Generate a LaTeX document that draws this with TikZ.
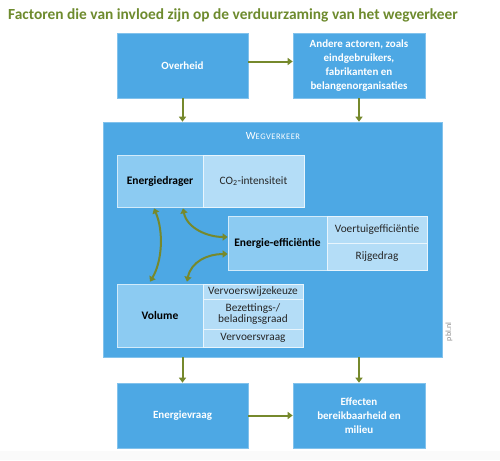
\documentclass[tikz,border=0pt]{standalone}
\usepackage{fontspec}
\setmainfont{Carlito}
\usetikzlibrary{arrows.meta}
\definecolor{pblblue}{HTML}{4DA8E4}
\definecolor{cellA}{HTML}{8CCBF2}
\definecolor{cellB}{HTML}{B4DDF7}
\definecolor{olive}{HTML}{76892C}
\definecolor{titlegreen}{HTML}{6E8B2E}
\tikzset{
  bluebox/.style={fill=pblblue, draw=pblblue!70!white, line width=0.6pt, text=white, font=\bfseries\fontsize{11}{14}\selectfont, align=center, inner sep=0pt},
  cella/.style={fill=cellA, draw=cellB!60!white, line width=0.6pt, text=black, font=\bfseries\fontsize{11.5}{12}\selectfont, align=center, inner sep=0pt},
  cellb/.style={fill=cellB, draw=white!70!cellB, line width=0.6pt, text=black!85, font=\fontsize{11.3}{11}\selectfont, align=center, inner sep=0pt},
  conn/.style={draw=olive, line width=2pt, -{Triangle[length=5pt,width=7pt]}},
  dconn/.style={draw=olive, line width=2pt, {Triangle[length=5pt,width=7pt]}-{Triangle[length=5pt,width=7pt]}},
}
\newcommand{\boxat}[6]{\node[#1, minimum width={(#4-#2)*1pt}, minimum height={(#5-#3)*1pt}] (#6) at ({(#2+#4)/2},{(#3+#5)/2})}
\begin{document}
\begin{tikzpicture}[x=1pt,y=-1pt]
\useasboundingbox (0,0) rectangle (500,460);
\fill[white] (0,0) rectangle (500,460);
\fill[black!2] (0,451) rectangle (500,460);
\node[anchor=base west, text=titlegreen, font=\bfseries\fontsize{15.4}{18}\selectfont, inner sep=0pt] (title) at (8,20) {Factoren die van invloed zijn op de verduurzaming van het wegverkeer};
% top boxes
\boxat{bluebox}{117}{33}{248}{98}{ov} {Overheid};
\boxat{bluebox}{293}{33}{425}{98}{and} {Andere actoren, zoals\\eindgebruikers,\\fabrikanten en\\belangenorganisaties};
% big box
\boxat{bluebox}{103}{122}{442}{357}{weg} {};
\node[text=white, font=\fontsize{11}{12}\selectfont\addfontfeature{LetterSpace=6}, anchor=base] (wegl) at (273,139) {W{\fontsize{8.5}{9}\selectfont EGVERKEER}};
% inner cells
\boxat{cella}{117}{155}{203}{207}{ed} {Energiedrager};
\boxat{cellb}{203}{155}{304}{207}{co} {CO\textsubscript{2}-intensiteit};
\boxat{cella}{228}{216}{327}{270}{ee} {Energie-efficiëntie};
\boxat{cellb}{327}{216}{427}{243}{vt} {Voertuigefficiëntie};
\boxat{cellb}{327}{243}{427}{270}{rg} {Rijgedrag};
\boxat{cella}{117}{284}{203}{347}{vol} {Volume};
\boxat{cellb}{203}{284}{303}{299}{vw} {Vervoerswijzekeuze};
\boxat{cellb}{203}{299}{303}{329}{bz} {Bezettings-/\\beladingsgraad};
\boxat{cellb}{203}{329}{303}{347}{vv} {Vervoersvraag};
% bottom boxes
\boxat{bluebox}{117}{383}{248}{448}{ev} {Energievraag};
\boxat{bluebox}{293}{383}{425}{448}{eff} {Effecten\\bereikbaarheid en\\milieu};
\node[rotate=90, text=black!45, font=\fontsize{8}{9}\selectfont, inner sep=0pt] (pbl) at (449,332) {pbl.nl};
% connectors
\draw[conn] ([yshift=4pt]ov.east) -- ([yshift=4pt]and.west);
\draw[conn] (ov.south) -- (ov.south |- weg.north);
\draw[conn] (and.south) -- (and.south |- weg.north);
\draw[conn] (ev.north |- weg.south) -- (ev.north);
\draw[conn] (eff.north |- weg.south) -- (eff.north);
\draw[conn] (ev.east) -- (eff.west);
\draw[dconn] ([xshift=-6pt,yshift=-1pt]ed.south) .. controls +(10,24) and +(12,-20) .. ([xshift=-10pt,yshift=2pt]vol.north);
\draw[dconn] ([xshift=23pt,yshift=-1pt]ed.south) .. controls +(4,20) and +(-20,0) .. ([yshift=6pt]ee.west);
\draw[dconn] ([xshift=27pt,yshift=2pt]vol.north) .. controls +(4,-20) and +(-20,0) .. ([yshift=-11pt]ee.west);
\end{tikzpicture}
\end{document}
